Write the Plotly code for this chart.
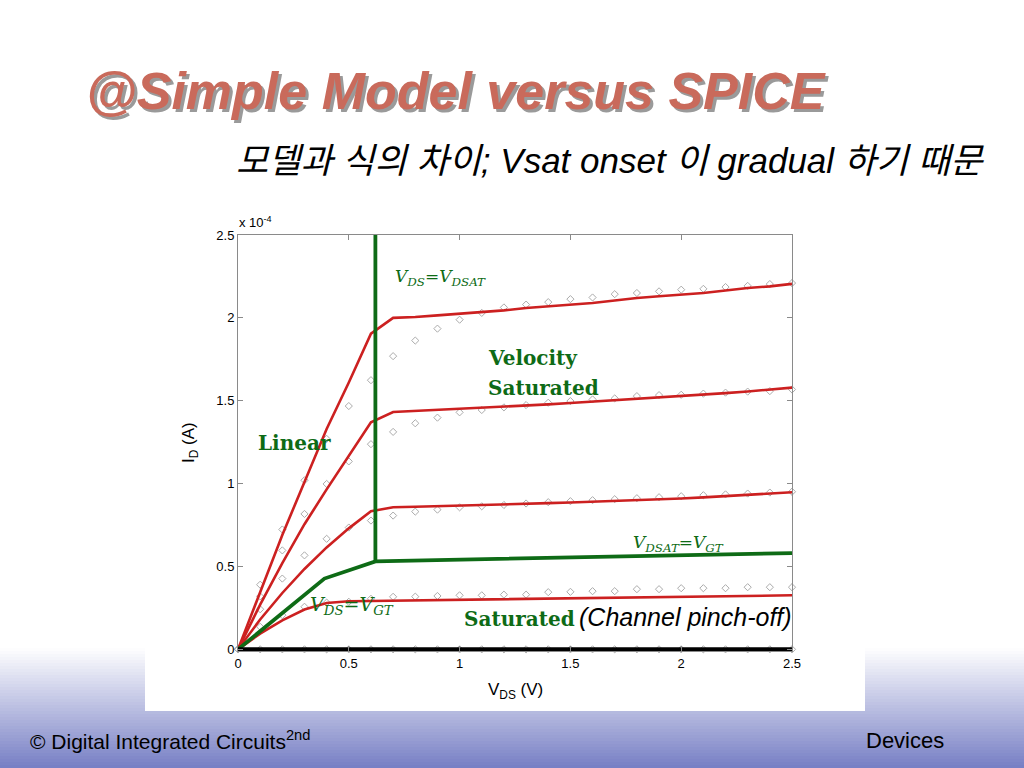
import plotly.graph_objects as go

# ---------------- data ----------------
vds = [0.0, 0.1, 0.2, 0.3, 0.4, 0.5, 0.6, 0.7, 0.8, 0.9, 1.0, 1.1, 1.2, 1.3,
       1.4, 1.5, 1.6, 1.7, 1.8, 1.9, 2.0, 2.1, 2.2, 2.3, 2.4, 2.5]

# simple model (red lines), I_D in units of 1e-4 A
model_1 = [0, 0.35, 0.69, 1.01, 1.33, 1.61, 1.905, 2.00, 2.005, 2.015, 2.025, 2.035, 2.045,
           2.06, 2.07, 2.08, 2.09, 2.105, 2.12, 2.13, 2.14, 2.15, 2.165, 2.18, 2.19, 2.205]
model_2 = [0, 0.27, 0.52, 0.755, 0.965, 1.165, 1.37, 1.432, 1.438, 1.444, 1.45, 1.456, 1.462,
           1.47, 1.478, 1.486, 1.494, 1.502, 1.51, 1.52, 1.528, 1.537, 1.546, 1.556, 1.567, 1.579]
model_3 = [0, 0.18, 0.34, 0.485, 0.615, 0.73, 0.833, 0.857, 0.86, 0.863, 0.866, 0.87, 0.874,
           0.878, 0.882, 0.886, 0.89, 0.895, 0.90, 0.905, 0.91, 0.917, 0.924, 0.931, 0.939, 0.948]
model_4 = [0, 0.095, 0.175, 0.24, 0.28, 0.29, 0.292, 0.294, 0.296, 0.298, 0.30, 0.302, 0.304,
           0.306, 0.308, 0.31, 0.312, 0.314, 0.316, 0.318, 0.32, 0.321, 0.322, 0.324, 0.325, 0.326]
model_0 = [0] * 26

# SPICE simulation (grey diamonds)
spice_1 = [0, 0.39, 0.723, 1.02, 1.27, 1.468, 1.624, 1.769, 1.863, 1.935, 1.989, 2.03, 2.063,
           2.08, 2.095, 2.113, 2.123, 2.143, 2.15, 2.16, 2.17, 2.175, 2.186, 2.193, 2.204, 2.21]
spice_2 = [0, 0.32, 0.597, 0.817, 0.998, 1.134, 1.238, 1.312, 1.364, 1.398, 1.43, 1.444, 1.46,
           1.474, 1.488, 1.498, 1.508, 1.514, 1.528, 1.534, 1.536, 1.543, 1.549, 1.555, 1.558, 1.568]
spice_3 = [0, 0.242, 0.427, 0.567, 0.667, 0.735, 0.777, 0.807, 0.831, 0.843, 0.857, 0.863, 0.871,
           0.88, 0.888, 0.894, 0.9, 0.906, 0.912, 0.918, 0.924, 0.93, 0.935, 0.94, 0.946, 0.951]
spice_4 = [0, 0.136, 0.206, 0.257, 0.282, 0.287, 0.305, 0.317, 0.318, 0.322, 0.326, 0.326, 0.33,
           0.33, 0.345, 0.347, 0.351, 0.351, 0.363, 0.363, 0.369, 0.369, 0.369, 0.375, 0.375, 0.375]
spice_0 = [0] * 26

# region boundaries (green)
vgt_x = [0, 0.39, 0.62, 2.5]
vgt_y = [0, 0.427, 0.531, 0.581]
vdsat_x = [0.62, 0.62]
vdsat_y = [0.531, 2.5]

x_ticks = [0, 0.5, 1, 1.5, 2, 2.5]
x_tick_labels = ["0", "0.5", "1", "1.5", "2", "2.5"]
y_ticks = [0, 0.5, 1, 1.5, 2, 2.5]
y_tick_labels = ["0", "0.5", "1", "1.5", "2", "2.5"]

# ---------------- styling ----------------
W, H = 1024, 768
PL, PR, PT, PB = 238, 792, 235, 651   # plot area in pixels
RED = "#cc2020"
GREEN = "#0e6b16"
SANS = "Liberation Sans, Arial, sans-serif"
NARROW = "Liberation Sans Narrow, Arial Narrow, Liberation Sans, sans-serif"
SERIF = "DejaVu Serif, serif"


def px(xp):
    return (xp - PL) / (PR - PL)


def py(yp):
    return (PB - yp) / (PB - PT)


fig = go.Figure()

for s in [spice_0, spice_4, spice_3, spice_2, spice_1]:
    fig.add_trace(go.Scatter(x=vds, y=s, mode="markers", cliponaxis=False,
                             marker=dict(symbol="diamond-open", size=5.5,
                                         color="#ababab", line=dict(width=1)),
                             showlegend=False, hoverinfo="skip"))

for m in [model_4, model_3, model_2, model_1]:
    fig.add_trace(go.Scatter(x=vds, y=m, mode="lines",
                             line=dict(color=RED, width=2.6),
                             showlegend=False, hoverinfo="skip"))

fig.add_trace(go.Scatter(x=vgt_x, y=vgt_y, mode="lines",
                         line=dict(color=GREEN, width=3.8),
                         showlegend=False, hoverinfo="skip"))
fig.add_trace(go.Scatter(x=vdsat_x, y=vdsat_y, mode="lines",
                         line=dict(color=GREEN, width=3.8),
                         showlegend=False, hoverinfo="skip"))
fig.add_trace(go.Scatter(x=vds, y=model_0, mode="lines",
                         line=dict(color="black", width=4),
                         showlegend=False, hoverinfo="skip"))

# ---------------- background: footer gradient + white figure box ----------------
shapes = []
g0, g1 = 648, 768
steps = 40
c_top = (255, 255, 255)
c_bot = (118, 126, 196)
for i in range(steps):
    y_a = g0 + (g1 - g0) * i / steps
    y_b = g0 + (g1 - g0) * (i + 1) / steps + 0.6
    t = (i + 0.5) / steps
    c = tuple(int(round(c_top[k] + (c_bot[k] - c_top[k]) * t)) for k in range(3))
    shapes.append(dict(type="rect", xref="paper", yref="paper", layer="below",
                       x0=px(-5), x1=px(W + 5), y0=py(y_b), y1=py(y_a),
                       line=dict(width=0), fillcolor="rgb(%d,%d,%d)" % c))
shapes.append(dict(type="rect", xref="paper", yref="paper", layer="below",
                   x0=px(145), x1=px(865), y0=py(711), y1=py(190),
                   line=dict(width=0), fillcolor="white"))

ann = []


def add(text, x, y, size, color="black", family=SANS, xanchor="left",
        yanchor="middle", angle=0, shadow=None):
    font = dict(size=size, color=color, family=family)
    if shadow:
        font["shadow"] = shadow
    ann.append(dict(text=text, x=px(x), y=py(y), xref="paper", yref="paper",
                    showarrow=False, xanchor=xanchor, yanchor=yanchor,
                    textangle=angle, font=font))


# title with drop shadow
add("<b><i>@Simple Model versus SPICE</i></b>", 84, 91, 52, color="#c96a5b",
    family=NARROW, shadow="3px 3px 0px #9a9a9a")
# subtitle
add("<i>모델과 식의 차이; Vsat onset 이 gradual 하기 때문</i>", 986, 160, 35,
    family="Liberation Sans, Noto Sans CJK KR, sans-serif",
    xanchor="right")
# footer
add("© Digital Integrated Circuits<sup>2nd</sup>", 28, 740, 21, family=NARROW)
add("Devices", 946, 740, 22, family=NARROW, xanchor="right")

# chart labels
add("<i>V<sub>DS</sub>=V<sub>DSAT</sub></i>", 393, 277, 17, GREEN, SERIF)
add("<b>Velocity</b>", 486, 358, 20, GREEN, SERIF)
add("<b>Saturated</b>", 486, 388, 20, GREEN, SERIF)
add("<b>Linear</b>", 256, 443, 20, GREEN, SERIF)
add("<i>V<sub>DSAT</sub>=V<sub>GT</sub></i>", 631, 543, 17, GREEN, SERIF)
add("<i>V<sub>DS</sub>=V<sub>GT</sub></i>", 308, 605, 19, GREEN, SERIF)
add("<b>Saturated</b>", 462, 619, 20, GREEN, SERIF)
add("<i>(Channel pinch-off)</i>", 577, 617, 25, "black", SANS)
add("x 10<sup>-4</sup>", 237, 222, 13)
add("I<sub>D</sub> (A)", 190, 443, 17, angle=-90, xanchor="center")
add("V<sub>DS</sub> (V)", 515, 691, 17, xanchor="center")

axis_common = dict(showgrid=False, zeroline=False, showline=True,
                   linecolor="#8a8a8a", linewidth=1, mirror="ticks",
                   ticks="inside", ticklen=5, tickcolor="#8a8a8a",
                   tickfont=dict(size=13, color="black", family=SANS))

fig.update_layout(
    width=W, height=H,
    margin=dict(l=PL, r=W - PR, t=PT, b=H - PB, autoexpand=False),
    paper_bgcolor="white", plot_bgcolor="white",
    xaxis=dict(range=[0, 2.5], tickvals=x_ticks, ticktext=x_tick_labels, **axis_common),
    yaxis=dict(range=[-0.01, 2.5], tickvals=y_ticks, ticktext=y_tick_labels, **axis_common),
    shapes=shapes, annotations=ann, showlegend=False,
)

# remove the browser's default 8px body margin so the figure sits at the page origin
fig.write_html("out.html", config={"displayModeBar": False},
               post_script="document.body.style.margin='0';document.body.style.overflow='hidden';")
